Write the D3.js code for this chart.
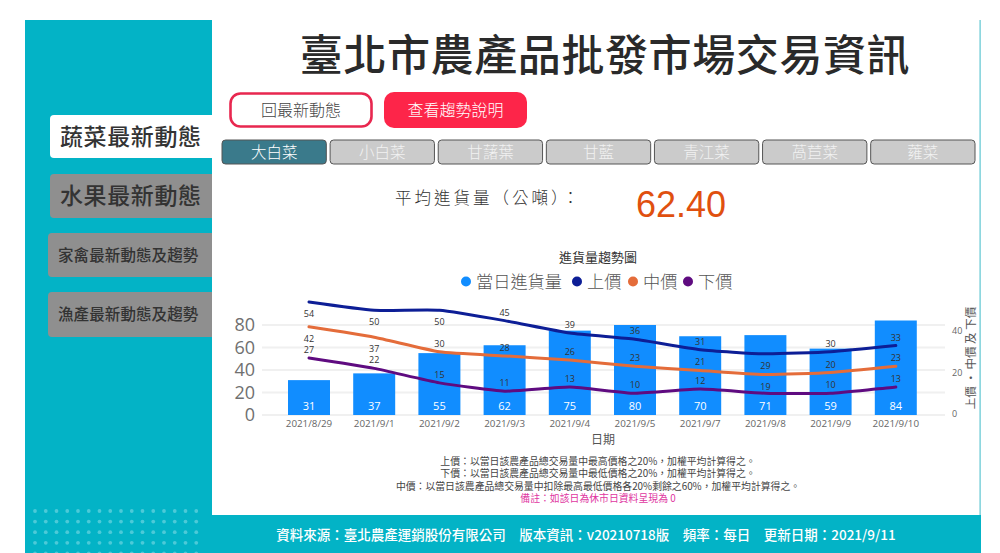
<!DOCTYPE html>
<html lang="zh-Hant">
<head>
<meta charset="utf-8">
<script src="https://cdn.jsdelivr.net/npm/d3@7/dist/d3.min.js"></script>
<style>
html,body{margin:0;padding:0;background:#fff;overflow:hidden}
svg{display:block}
text{font-family:"Noto Sans CJK TC","Noto Sans",sans-serif}
.num text,text.num{font-family:"Open Sans","Noto Sans",sans-serif}
</style>
</head>
<body>
<svg id="c" width="1000" height="553"></svg>
<script>
const dates = ["2021/8/29","2021/9/1","2021/9/2","2021/9/3","2021/9/4","2021/9/5","2021/9/7","2021/9/8","2021/9/9","2021/9/10"];
const volume = [31,37,55,62,75,80,70,71,59,84];
const upper = [54,50,50,45,39,36,31,29,30,33];
const middle = [42,37,30,28,26,23,21,19,20,23];
const lower = [27,22,15,11,13,10,12,10,10,13];
// 1 = label above the point, -1 = label below, 0 = label hidden in the reference
const upperLabelSide = [-1,-1,-1,1,1,1,1,-1,1,1];
const middleLabelSide = [-1,-1,1,1,1,1,1,-1,1,1];
const lowerLabelSide = [1,1,1,1,1,1,1,0,1,1];
const leftTicks = [0,20,40,60,80];
const rightTicks = [0,20,40];
const legendItems = ["當日進貨量","上價","中價","下價"];
const tabs = ["大白菜","小白菜","甘藷葉","甘藍","青江菜","萵苣菜","蕹菜"];
const sideMenu = ["蔬菜最新動態","水果最新動態","家禽最新動態及趨勢","漁產最新動態及趨勢"];
const notes = ["上價：以當日該農產品總交易量中最高價格之20%，加權平均計算得之。","下價：以當日該農產品總交易量中最低價格之20%，加權平均計算得之。","中價：以當日該農產品總交易量中扣除最高最低價格各20%剩餘之60%，加權平均計算得之。","備註：如該日為休市日資料呈現為 0"];

const TEAL="#03b3c6", BAR="#118dff", UP="#0d1e96", MID="#e46c3a", LOW="#5f0b80";
const svg=d3.select("#c");

// page frame
svg.append("rect").attr("x",25).attr("y",20).attr("width",187).attr("height",533).attr("fill",TEAL);
svg.append("rect").attr("x",25).attr("y",515).attr("width",956).attr("height",38).attr("fill",TEAL);
svg.append("rect").attr("x",979.5).attr("y",20).attr("width",1.2).attr("height",495).attr("fill","#5fc6d2");
svg.append("g").selectAll("circle")
  .data(d3.cross(d3.range(16),d3.range(5)))
  .join("circle")
  .attr("cx",d=>35+d[0]*10.75).attr("cy",d=>511+d[1]*10.6).attr("r",1.9)
  .attr("fill","#4ccad8");

// title
svg.append("text").attr("x",605).attr("y",71).attr("text-anchor","middle")
  .attr("font-size",43).attr("font-weight",500).attr("fill","#2a2a2a").attr("letter-spacing",.6)
  .text("臺北市農產品批發市場交易資訊");

// side menu
const menuLayout=[[50,115,43,"#fff",23,.6],[50,174,44,"#8f8f8f",23,.6],[48,233,44,"#8f8f8f",15.5,.1],[48,292,45,"#8f8f8f",15.5,.1]];
sideMenu.forEach((t,i)=>{
  const [x,y,h,f,fs,ls]=menuLayout[i];
  svg.append("path").attr("d",`M212 ${y}H${x+4}a4 4 0 0 0 -4 4V${y+h-4}a4 4 0 0 0 4 4H212Z`).attr("fill",f);
  svg.append("text").attr("x",x+10).attr("y",y+h/2+fs*.36).attr("font-size",fs)
    .attr("font-weight",500).attr("fill","#333").attr("letter-spacing",ls).text(t);
});

// top buttons
svg.append("rect").attr("x",230.5).attr("y",93.5).attr("width",141).attr("height",33).attr("rx",10)
  .attr("fill","#fff").attr("stroke","#e8274f").attr("stroke-width",2.6);
svg.append("text").attr("x",301).attr("y",115.5).attr("text-anchor","middle").attr("font-size",16).attr("font-weight",300).attr("fill","#444").text("回最新動態");
svg.append("rect").attr("x",384).attr("y",92).attr("width",143).attr("height",36).attr("rx",10).attr("fill","#fd2549");
svg.append("text").attr("x",455.5).attr("y",115.5).attr("text-anchor","middle").attr("font-size",16).attr("font-weight",300).attr("fill","#fff").text("查看趨勢說明");

// tabs
const tabX=d3.scaleBand().domain(tabs).range([222,975]).paddingInner(.035).paddingOuter(0);
const tab=svg.append("g").selectAll("g").data(tabs).join("g");
tab.append("rect").attr("x",d=>tabX(d)).attr("y",140).attr("width",tabX.bandwidth()).attr("height",24).attr("rx",3.5)
  .attr("fill",(d,i)=>i?"#cbcbcb":"#3a7a8b").attr("stroke","#555").attr("stroke-width",1);
tab.append("text").attr("x",d=>tabX(d)+tabX.bandwidth()/2).attr("y",157.5).attr("text-anchor","middle")
  .attr("font-size",15.5).attr("font-weight",300).attr("fill",(d,i)=>i?"#f2f2f2":"#fff").text(d=>d);

// KPI
svg.append("text").attr("x",395).attr("y",204).attr("font-size",16.5).attr("font-weight",300).attr("fill","#333").attr("letter-spacing",3).text("平均進貨量（公噸）：");
svg.append("text").attr("x",681).attr("y",217).attr("text-anchor","middle").attr("font-size",36)
  .attr("fill","#e0500f").style("font-family","'Liberation Sans',Arial,sans-serif").text("62.40");

// chart heading + legend
svg.append("text").attr("x",598).attr("y",262).attr("text-anchor","middle").attr("font-size",13).attr("fill","#333").text("進貨量趨勢圖");
const legendLayout=[[466,BAR],[577,UP],[633,MID],[688,LOW]];
legendItems.forEach((t,i)=>{
  svg.append("circle").attr("cx",legendLayout[i][0]).attr("cy",281.5).attr("r",5).attr("fill",legendLayout[i][1]);
  svg.append("text").attr("x",legendLayout[i][0]+10).attr("y",287.5).attr("font-size",17.2).attr("font-weight",300).attr("fill","#555").text(t);
});

// scales
const x=d3.scaleBand().domain(dates).range([276.4,928.4]).paddingInner(.356).paddingOuter(.178);
const cx=d=>x(d)+x.bandwidth()/2;
const yL=d3.scaleLinear().domain([0,80]).range([415,325]);
const yR=d3.scaleLinear().domain([0,40]).range([414,331]);

// gridlines
svg.append("g").selectAll("line").data(leftTicks).join("line")
  .attr("x1",262).attr("x2",945).attr("y1",d=>yL(d)).attr("y2",d=>yL(d))
  .attr("stroke","#f0f0f0").attr("stroke-width",2);

// bars
svg.append("g").selectAll("rect").data(volume).join("rect")
  .attr("x",(d,i)=>x(dates[i])).attr("width",x.bandwidth())
  .attr("y",d=>yL(d)).attr("height",d=>yL(0)-yL(d)).attr("fill",BAR);

// axes
const axL=svg.append("g").attr("class","num").attr("transform","translate(258,0)")
  .call(d3.axisLeft(yL).tickValues(leftTicks).tickSize(0).tickPadding(3));
axL.select(".domain").remove();
axL.selectAll("text").attr("font-size",18).attr("font-weight",400).attr("fill","#707070");
const axR=svg.append("g").attr("class","num").attr("transform","translate(948,0)")
  .call(d3.axisRight(yR).tickValues(rightTicks).tickSize(0).tickPadding(4));
axR.select(".domain").remove();
axR.selectAll("text").attr("font-size",9).attr("fill","#666");
const axB=svg.append("g").attr("class","num").attr("transform","translate(0,415)")
  .call(d3.axisBottom(x).tickSize(0).tickPadding(5));
axB.select(".domain").remove();
axB.selectAll("text").attr("font-size",9.8).attr("fill","#666");

svg.append("text").attr("x",603).attr("y",444).attr("text-anchor","middle").attr("font-size",12).attr("fill","#555").text("日期");
svg.append("text").attr("transform","translate(975,358) rotate(-90)").attr("text-anchor","middle")
  .attr("font-size",11.5).attr("fill","#555").text("上價 · 中價 及 下價");

// lines
const line=d3.line().x((d,i)=>cx(dates[i])).y(d=>yR(d)).curve(d3.curveCardinal.tension(.5));
[[upper,UP],[middle,MID],[lower,LOW]].forEach(([s,c])=>{
  svg.append("path").datum(s).attr("d",line).attr("fill","none").attr("stroke",c)
    .attr("stroke-width",3).attr("stroke-linecap","round");
});

// bar labels
svg.append("g").attr("class","num").selectAll("text").data(volume).join("text")
  .attr("x",(d,i)=>cx(dates[i])).attr("y",409.5).attr("text-anchor","middle")
  .attr("font-size",11).attr("fill","#fff").text(d=>d);

// line labels
[[upper,upperLabelSide],[middle,middleLabelSide],[lower,lowerLabelSide]].forEach(([s,side])=>{
  svg.append("g").attr("class","num").selectAll("text").data(s).join("text")
    .attr("x",(d,i)=>cx(dates[i]))
    .attr("y",(d,i)=>yR(d)+(side[i]>0?-5:side[i]<0?15:0))
    .attr("text-anchor","middle").attr("font-size",9).attr("fill","#333")
    .attr("display",(d,i)=>side[i]===0?"none":null).text(d=>d);
});

// notes
svg.append("g").selectAll("text").data(notes).join("text")
  .attr("x",598).attr("y",(d,i)=>465+i*12.4).attr("text-anchor","middle").attr("font-size",9.85)
  .attr("fill",(d,i)=>i===3?"#e0369f":"#444").text(d=>d);

// footer
svg.append("text").attr("x",586).attr("y",540).attr("text-anchor","middle").attr("font-size",13.5)
  .attr("fill","#fff").attr("font-weight",500)
  .text("資料來源：臺北農產運銷股份有限公司　版本資訊：v20210718版　頻率：每日　更新日期：2021/9/11");
</script>
</body>
</html>
